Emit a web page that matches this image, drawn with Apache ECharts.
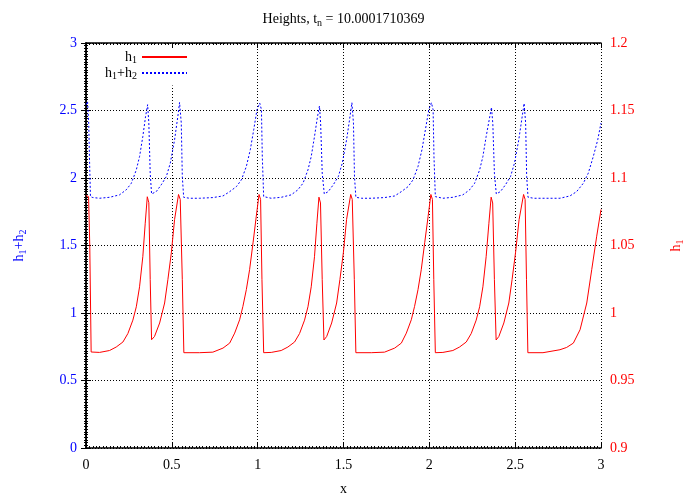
<!DOCTYPE html>
<html>
<head>
<meta charset="utf-8">
<script src="https://cdn.jsdelivr.net/npm/echarts@6/dist/echarts.min.js"></script>
<style>
html,body{margin:0;padding:0;background:#fff;}
#chart{width:687px;height:496px;}
</style>
</head>
<body>
<div id="chart"></div>
<script>
// x-axis ticks
var xTicks = [0, 0.5, 1, 1.5, 2, 2.5, 3];
var leftTicks = [0, 0.5, 1, 1.5, 2, 2.5, 3];
var rightTicks = [0.9, 0.95, 1, 1.05, 1.1, 1.15, 1.2];

// h1 (right axis)
var h1X = [0.000,0.008,0.015,0.022,0.030,0.079,0.137,0.176,0.215,0.244,0.273,0.293,0.312,0.331,0.345,0.357,0.366,0.374,0.382,0.399,0.429,0.458,0.477,0.497,0.516,0.539,0.549,0.561,0.570,0.662,0.739,0.798,0.837,0.866,0.895,0.914,0.934,0.953,0.973,0.992,1.008,1.017,1.025,1.035,
1.079,1.137,1.176,1.215,1.244,1.273,1.293,1.312,1.331,1.345,1.357,1.366,1.376,1.386,1.402,1.431,1.460,1.479,1.499,1.518,1.542,1.551,1.563,1.572,1.662,1.739,1.798,1.837,1.866,1.895,1.914,1.934,1.953,1.973,1.993,2.009,2.018,2.026,2.035,
2.079,2.137,2.176,2.215,2.244,2.273,2.293,2.312,2.331,2.347,2.360,2.369,2.379,2.389,2.405,2.434,2.463,2.482,2.502,2.523,2.549,2.558,2.566,2.574,2.662,2.761,2.800,2.839,2.878,2.917,2.946,2.975,3.000];
var h1Y = [1.0870,1.0878,1.0862,1.0500,0.9711,0.9708,0.9722,0.9748,0.9785,0.9848,0.9947,1.0046,1.0194,1.0417,1.0665,1.0861,1.0817,1.0247,0.9802,0.9826,0.9926,1.0074,1.0247,1.0445,1.0693,1.0878,1.0841,1.0247,0.9706,0.9706,0.9710,0.9740,0.9777,0.9851,0.9950,1.0049,1.0173,1.0321,1.0520,1.0717,1.0878,1.0841,1.0247,0.9706,
0.9708,0.9722,0.9748,0.9785,0.9848,0.9947,1.0046,1.0194,1.0417,1.0665,1.0858,1.0815,1.0247,0.9800,0.9826,0.9926,1.0074,1.0247,1.0445,1.0693,1.0878,1.0841,1.0247,0.9706,0.9706,0.9710,0.9740,0.9777,0.9851,0.9950,1.0049,1.0173,1.0321,1.0520,1.0717,1.0878,1.0841,1.0247,0.9706,
0.9708,0.9722,0.9748,0.9785,0.9848,0.9947,1.0046,1.0194,1.0417,1.0665,1.0858,1.0815,1.0247,0.9800,0.9826,0.9926,1.0074,1.0247,1.0445,1.0693,1.0878,1.0841,1.0247,0.9706,0.9706,0.9728,0.9745,0.9777,0.9876,1.0074,1.0321,1.0569,1.0767];

// h1+h2 (left axis)
var sumX = [0.000,0.009,0.016,0.020,0.026,0.040,0.079,0.137,0.195,0.234,0.264,0.293,0.312,0.331,0.347,0.359,0.366,0.374,0.382,0.409,0.438,0.468,0.491,0.516,0.535,0.545,0.555,0.561,0.569,0.603,0.662,0.739,0.798,0.837,0.876,0.905,0.934,0.957,0.977,0.996,1.012,1.022,1.027,1.035,
1.079,1.137,1.195,1.234,1.264,1.293,1.312,1.331,1.348,1.360,1.367,1.376,1.388,1.411,1.440,1.470,1.493,1.518,1.538,1.549,1.558,1.564,1.572,1.606,1.662,1.739,1.798,1.837,1.876,1.905,1.934,1.957,1.977,1.997,2.012,2.022,2.027,2.035,
2.079,2.137,2.195,2.234,2.264,2.293,2.312,2.331,2.350,2.362,2.370,2.379,2.390,2.414,2.443,2.473,2.496,2.521,2.541,2.552,2.561,2.567,2.575,2.609,2.662,2.761,2.819,2.858,2.897,2.926,2.955,2.981,3.000];
var sumY = [2.543,2.567,2.400,2.159,1.862,1.855,1.850,1.857,1.875,1.912,1.961,2.060,2.159,2.307,2.456,2.543,2.407,2.036,1.882,1.899,1.949,2.011,2.110,2.283,2.456,2.560,2.407,2.011,1.857,1.850,1.850,1.855,1.867,1.899,1.936,1.986,2.085,2.209,2.357,2.506,2.555,2.506,2.159,1.862,
1.850,1.857,1.875,1.912,1.961,2.060,2.159,2.307,2.450,2.533,2.400,2.036,1.882,1.899,1.949,2.011,2.110,2.283,2.456,2.558,2.407,2.011,1.857,1.850,1.850,1.855,1.867,1.899,1.936,1.986,2.085,2.209,2.357,2.506,2.558,2.506,2.159,1.862,
1.850,1.857,1.875,1.912,1.961,2.060,2.159,2.307,2.440,2.524,2.400,2.036,1.882,1.899,1.949,2.011,2.110,2.283,2.456,2.553,2.407,2.011,1.857,1.850,1.850,1.850,1.867,1.899,1.961,2.036,2.159,2.283,2.407];

function pairs(xs, ys){ return xs.map(function(x,i){ return [x, ys[i]]; }); }

var FONT = 'Liberation Serif';
var BLUE = '#0000ff', RED = '#ff0000';
function rich(color){
  return {
    a: {fontFamily: FONT, fontSize: 14, color: color},
    s: {fontFamily: FONT, fontSize: 10, color: color, padding: [7,0,0,0]}
  };
}
var gridLine = {show: true, lineStyle: {color: '#000', width: 1, type: [1,2]}};
var axisLine = {show: true, lineStyle: {color: '#000', width: 1.5}};
var tick = {show: true, inside: true, length: 5, lineStyle: {color: '#000'}};
var minor = {show: true, splitNumber: 25, length: 2, lineStyle: {color: '#000', width: 1}};

var chart = echarts.init(document.getElementById('chart'), null, {renderer: 'canvas'});
chart.setOption({
  animation: false,
  backgroundColor: '#fff',
  title: {
    text: 'Heights, t{s|n} = 10.0001710369',
    left: 'center', top: 6,
    textStyle: {fontFamily: FONT, fontSize: 14, fontWeight: 'normal', color: '#000', rich: rich('#000')}
  },
  grid: {left: 86, right: 86, top: 43, bottom: 48, containLabel: false, outerBoundsMode: 'none'},
  legend: [
    {data: ['h1'], orient: 'vertical', align: 'right', right: 499, top: 48, itemWidth: 45, itemHeight: 10,
     padding: [2,0,2,4], backgroundColor: '#fff',
     itemStyle: {opacity: 0},
     formatter: function(){ return '{a|h}{s|1}'; },
     textStyle: {color: '#000', rich: rich('#000')}},
    {data: ['h1+h2'], orient: 'vertical', align: 'right', right: 499, top: 64, itemWidth: 45, itemHeight: 10,
     padding: [2,0,4,4], backgroundColor: '#fff',
     itemStyle: {opacity: 0},
     formatter: function(){ return '{a|h}{s|1}{a|+h}{s|2}'; },
     textStyle: {color: '#000', rich: rich('#000')}}
  ],
  xAxis: [
    {type: 'value', position: 'bottom', min: 0, max: 3, interval: 0.5,
     name: 'x', nameLocation: 'middle', nameGap: 34,
     nameTextStyle: {fontFamily: FONT, fontSize: 14, color: '#000'},
     axisLine: axisLine, axisTick: tick, minorTick: minor, splitLine: gridLine,
     axisLabel: {fontFamily: FONT, fontSize: 14, color: '#000', margin: 10}},
    {type: 'value', position: 'top', min: 0, max: 3, interval: 0.5,
     axisLine: axisLine, axisTick: tick, minorTick: minor, splitLine: {show: false},
     axisLabel: {show: false}}
  ],
  yAxis: [
    {type: 'value', position: 'left', min: 0, max: 3, interval: 0.5,
     name: '{a|h}{s|1}{a|+h}{s|2}', nameLocation: 'middle', nameGap: 58, nameRotate: 90,
     nameTextStyle: {color: BLUE, rich: rich(BLUE)},
     axisLine: axisLine, axisTick: tick, minorTick: minor, splitLine: gridLine,
     axisLabel: {fontFamily: FONT, fontSize: 14, color: BLUE, margin: 9}},
    {type: 'value', position: 'right', min: 0.9, max: 1.2, interval: 0.05,
     name: '{a|h}{s|1}', nameLocation: 'middle', nameGap: 67, nameRotate: 90,
     nameTextStyle: {color: RED, rich: rich(RED)},
     axisLine: axisLine, axisTick: tick, minorTick: minor, splitLine: {show: false},
     axisLabel: {fontFamily: FONT, fontSize: 14, color: RED, margin: 9,
       formatter: function(v){ return String(Math.round(v*100)/100); }}}
  ],
  series: [
    {name: 'h1', type: 'line', xAxisIndex: 0, yAxisIndex: 1, data: pairs(h1X, h1Y),
     symbol: 'none', showSymbol: false, smooth: false,
     lineStyle: {color: RED, width: 1}, itemStyle: {color: RED}, z: 3},
    {name: 'h1+h2', type: 'line', xAxisIndex: 0, yAxisIndex: 0, data: pairs(sumX, sumY),
     symbol: 'none', showSymbol: false, smooth: false,
     lineStyle: {color: BLUE, width: 1, type: [2,2]}, itemStyle: {color: BLUE}, z: 2}
  ]
});
</script>
</body>
</html>
